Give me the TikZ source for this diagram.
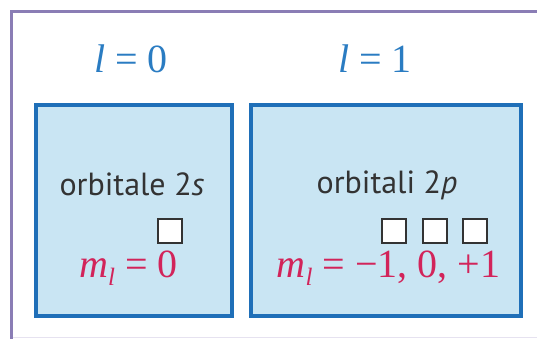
\documentclass[tikz,border=0pt]{standalone}
\usepackage{fontspec}
\newfontfamily\serf{Liberation Serif}
\newfontfamily\sans{PT Sans}
\definecolor{framec}{HTML}{8A7DB5}
\definecolor{framelight}{HTML}{E6E2F0}
\definecolor{boxline}{HTML}{1F6FB8}
\definecolor{boxfill}{HTML}{C9E5F3}
\definecolor{lblue}{HTML}{2A7CC2}
\definecolor{mred}{HTML}{D2245A}
\definecolor{txtgray}{HTML}{333333}
\newcommand{\mlsub}{m\raisebox{-0.22em}{\fontsize{25}{25}\selectfont l}}
\newcommand{\eqs}{\hspace{10pt}=\hspace{10pt}}
\tikzset{
  orbbox/.style={draw=boxline, fill=boxfill, line width=3.5pt},
  lval/.style={font=\serf\fontsize{40}{44}\selectfont, text=lblue, anchor=base, inner sep=0pt},
  mval/.style={font=\serf\fontsize{40}{44}\selectfont, text=mred, anchor=base, inner sep=0pt},
  orbname/.style={font=\sans\fontsize{32}{36}\selectfont, text=txtgray, anchor=base, inner sep=0pt},
  slot/.style={draw=txtgray, fill=white, line width=2pt, minimum size=24pt, inner sep=0pt, anchor=north west}
}
\begin{document}
\begin{tikzpicture}[x=1pt,y=-1pt]
\useasboundingbox (0,0) rectangle (537,339);
% outer frame
\draw[framelight, line width=1.5pt] (11,337.5) -- (537,337.5);
\draw[framec, line width=3pt] (537,12) -- (11.5,12) -- (11.5,339);
% boxes
\draw[orbbox] (36,105) rectangle (232,316);
\draw[orbbox] (251,105) rectangle (521,316);
% l labels
\node[lval] (l0) at (131,73) {{\itshape l}\eqs 0};
\node[lval] (l1) at (375,73) {{\itshape l}\eqs 1};
% orbital names
\node[orbname] (n2s) at (132,195) {orbitale 2{\itshape s}};
\node[orbname] (n2p) at (387,193) {orbitali 2{\itshape p}};
% slots
\node[slot] (s0) at (157,218) {};
\node[slot] (p1) at (381,218) {};
\node[slot] (p2) at (422,218) {};
\node[slot] (p3) at (462,218) {};
% ml values
\node[mval] (m0) at (128.5,277) {{\itshape\mlsub}\eqs 0};
\node[mval] (m1) at (388.5,277) {{\itshape\mlsub}\eqs −1, 0, +1};
\end{tikzpicture}
\end{document}
